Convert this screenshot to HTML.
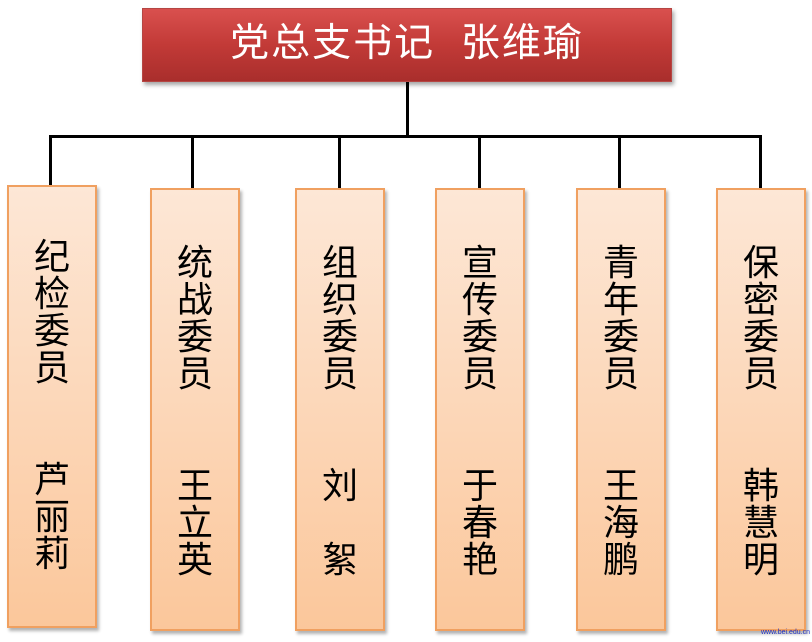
<!DOCTYPE html>
<html><head><meta charset="utf-8"><style>
body{margin:0;width:812px;height:642px;background:#fff;position:relative;overflow:hidden;font-family:"Liberation Sans","Noto Sans CJK SC",sans-serif}
.top{position:absolute;left:142px;top:8px;width:530px;height:74px;background:linear-gradient(#d9504e,#c23a37 50%,#a92e2c);border:1px solid #b54643;box-sizing:border-box;box-shadow:2px 3px 4px rgba(0,0,0,.35);color:#fff;font-size:39px;line-height:70px;text-align:center;letter-spacing:2px}
.l{position:absolute;background:#000}
.b{position:absolute;width:90px;height:443px;box-sizing:border-box;border:2px solid #f0a060;background:linear-gradient(#fde7d6,#fbc79b);box-shadow:2px 3px 3px rgba(0,0,0,.3);text-align:center;font-size:36px;line-height:37px;color:#000}
.b div{position:absolute;left:0;right:0}
.wm{position:absolute;right:2px;bottom:6px;font-size:7px;color:#2030c0}
</style></head><body>
<div class="top">党总支书记&nbsp; 张维瑜</div>
<div class="l" style="left:406px;top:82px;width:3px;height:56px"></div>
<div class="l" style="left:49px;top:135px;width:713px;height:3px"></div>
<div class="l" style="left:49px;top:135px;width:3px;height:50px"></div>
<div class="l" style="left:191px;top:135px;width:3px;height:53px"></div>
<div class="l" style="left:338px;top:135px;width:3px;height:53px"></div>
<div class="l" style="left:478px;top:135px;width:3px;height:53px"></div>
<div class="l" style="left:618px;top:135px;width:3px;height:53px"></div>
<div class="l" style="left:759px;top:135px;width:3px;height:53px"></div>
<div class="b" style="left:7px;top:185px"><div style="top:51px">纪<br>检<br>委<br>员</div><div style="top:274px">芦<br>丽<br>莉</div></div>
<div class="b" style="left:150px;top:188px"><div style="top:54px">统<br>战<br>委<br>员</div><div style="top:277px">王<br>立<br>英</div></div>
<div class="b" style="left:295px;top:188px"><div style="top:54px">组<br>织<br>委<br>员</div><div style="top:277px">刘<br><br>絮</div></div>
<div class="b" style="left:435px;top:188px"><div style="top:54px">宣<br>传<br>委<br>员</div><div style="top:277px">于<br>春<br>艳</div></div>
<div class="b" style="left:576px;top:188px"><div style="top:54px">青<br>年<br>委<br>员</div><div style="top:277px">王<br>海<br>鹏</div></div>
<div class="b" style="left:716px;top:188px"><div style="top:54px">保<br>密<br>委<br>员</div><div style="top:277px">韩<br>慧<br>明</div></div>
<div class="wm">www.bei.edu.cn</div>
</body></html>
